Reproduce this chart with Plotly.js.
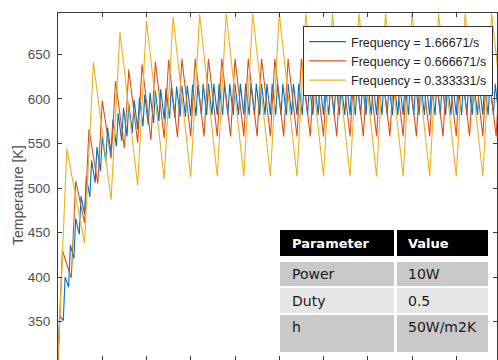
<!DOCTYPE html>
<html>
<head>
<meta charset="utf-8">
<script src="https://cdn.plot.ly/plotly-3.0.1.min.js"></script>
<style>
  html, body { margin: 0; padding: 0; background: #ffffff; overflow: hidden; }
  #chart { width: 498px; height: 360px; }
</style>
</head>
<body>
<div id="chart"></div>
<script>
// Pulsed heating: temperature response for three switching frequencies.
const seriesNames = ['Frequency = 1.66671/s', 'Frequency = 0.666671/s', 'Frequency = 0.333331/s'];
const yLabel = 'Temperature [K]';

// 1.66671/s series: switching instants [s] and temperature [K]
const blueTime = [0,
  0.2, 0.6, 0.8, 1.2, 1.4, 1.8, 2.0, 2.4, 2.6, 3.0, 3.2, 3.6, 3.8, 4.2, 4.4, 4.8,
  5.0, 5.4, 5.6, 6.0, 6.2, 6.6, 6.8, 7.2, 7.4, 7.8, 8.0, 8.4, 8.6, 9.0, 9.2, 9.6,
  9.8, 10.2, 10.4, 10.8, 11.0, 11.4, 11.6, 12.0, 12.2, 12.6, 12.8, 13.2, 13.4, 13.8,
  14.0, 14.4, 14.6, 15.0, 15.2, 15.6, 15.8, 16.2, 16.4, 16.8, 17.0, 17.4, 17.6, 18.0,
  18.2, 18.6, 18.8, 19.2, 19.4, 19.8, 20.0, 20.4, 20.6, 21.0, 21.2, 21.6, 21.8, 22.2,
  22.4, 22.8, 23.0, 23.4, 23.6, 24.0, 24.2, 24.6, 24.8, 25.2, 25.4, 25.8, 26.0, 26.4,
  26.6, 27.0, 27.2, 27.6, 27.8, 28.2, 28.4, 28.8, 29.0, 29.4, 29.6, 30.0, 30.2, 30.6,
  30.8, 31.2, 31.4, 31.8, 32.0, 32.4, 32.6, 33.0, 33.2, 33.6, 33.8, 34.2, 34.4, 34.8,
  35.0, 35.4, 35.6, 36.0, 36.2, 36.6, 36.8, 37.2, 37.4, 37.8, 38.0, 38.4, 38.6, 39.0,
  39.2, 39.6, 39.8, 40.2, 40.4, 40.8, 41.0, 41.4, 41.6, 42.0, 42.2, 42.6, 42.8, 43.2,
  43.4, 43.8, 44.0, 44.4, 44.6, 45.0, 45.2, 45.6, 45.8, 46.2, 46.4, 46.8, 47.0, 47.4,
  47.6, 48.0, 48.2, 48.6, 48.8, 49.2, 49.4, 49.8];
const blueTemp = [307,
  357, 351, 400, 389, 436, 421, 466, 448, 491, 471, 513, 490, 531, 506, 546, 519,
  558, 530, 568, 539, 577, 547, 584, 553, 590, 558, 595, 562, 599, 566, 602, 569,
  605, 571, 607, 573, 609, 575, 611, 577, 612, 578, 613, 579, 614, 580, 615, 580,
  615, 581, 616, 581, 616, 582,
  617, 582, 617, 582, 617, 582, 617, 582, 617, 582, 617, 582, 617, 582, 617, 582,
  617, 582, 617, 582, 617, 582, 617, 582, 617, 582, 617, 582, 617, 582, 617, 582,
  617, 582, 617, 582, 617, 582, 617, 582, 617, 582, 617, 582, 617, 582, 617, 582,
  617, 582, 617, 582, 617, 582, 617, 582, 617, 582, 617, 582, 617, 582, 617, 582,
  617, 582, 617, 582, 617, 582, 617, 582, 617, 582, 617, 582, 617, 582, 617, 582,
  617, 582, 617, 582, 617, 582, 617, 582, 617, 582, 617, 582, 617, 582, 617, 582,
  617, 582, 617, 582, 617, 582, 617, 582, 617, 582, 617, 582, 617, 582, 617, 582];

// 0.666671/s series
const redTime = [0,
  0.5, 1.5, 2, 3, 3.5, 4.5, 5, 6, 6.5, 7.5, 8, 9, 9.5, 10.5, 11, 12,
  12.5, 13.5, 14, 15, 15.5, 16.5, 17, 18, 18.5, 19.5, 20, 21, 21.5, 22.5, 23, 24,
  24.5, 25.5, 26, 27, 27.5, 28.5, 29, 30, 30.5, 31.5, 32, 33, 33.5, 34.5, 35, 36,
  36.5, 37.5, 38, 39, 39.5, 40.5, 41, 42, 42.5, 43.5, 44, 45, 45.5, 46.5, 47, 48,
  48.5, 49.5, 50];
const redTemp = [307,
  430, 399, 508, 461, 566, 505, 598, 533, 620, 545, 633, 551, 639, 554, 642, 556,
  644, 557, 645, 558, 645, 558, 645, 558, 645, 558, 645, 558, 645, 558, 645, 558,
  645, 558, 645, 558, 645, 558, 645, 558, 645, 558, 645, 558, 645, 558, 645, 558,
  645, 558, 645, 558, 645, 558, 645, 558, 645, 558, 645, 558, 645, 558, 645, 558,
  645, 558, 645];

// 0.333331/s series
const yellowTime = [0,
  1, 3, 4, 6, 7, 9, 10, 12, 13, 15, 16, 18, 19, 21, 22, 24,
  25, 27, 28, 30, 31, 33, 34, 36, 37, 39, 40, 42, 43, 45, 46, 48, 49, 51];
const yellowTemp = [307,
  544, 438, 641, 487, 675, 503, 688, 510, 692, 512, 695, 513, 696, 513, 696, 513,
  696, 513, 696, 513, 696, 513, 696, 513, 696, 513, 696, 513, 696, 513, 696, 513, 696, 513];

// Parameter table
const tableHeader = ['Parameter', 'Value'];
const paramNames = ['Power', 'Duty', 'h'];
const paramValues = ['10W', '0.5', '50W/m2K'];

const lineColors = ['#0072BD', '#D95319', '#EDB120'];
const W = 498, H = 360;
const M = { l: 58, r: 1, t: 13, b: 0 };
const PW = W - M.l - M.r, PH = H - M.t - M.b;
const fx = px => (px - M.l) / PW;
const fy = py => (H - M.b - py) / PH;

const traces = [
  { x: blueTime, y: blueTemp },
  { x: redTime, y: redTemp },
  { x: yellowTime, y: yellowTemp }
].map((s, i) => ({
  x: s.x, y: s.y, type: 'scatter', mode: 'lines', name: seriesNames[i],
  line: { color: lineColors[i], width: 1.1 }, hoverinfo: 'skip'
}));

// table geometry (pixels)
const colEdges = [[280, 394], [397, 488]];
const rowEdges = [[230, 256], [262, 286], [288, 313], [315, 352]];
const rowFills = ['#000000', '#c9c9c9', '#e6e6e6', '#c9c9c9'];
const textY = [243, 274, 300.5, 327];
const textX = [290, 406];

const rows = [tableHeader].concat(paramNames.map((n, i) => [n, paramValues[i]]));
const shapes = [];
const annotations = [];
rows.forEach((row, r) => {
  row.forEach((txt, c) => {
    shapes.push({
      type: 'rect', xref: 'paper', yref: 'paper', layer: 'above',
      x0: fx(colEdges[c][0]), x1: fx(colEdges[c][1]),
      y0: fy(rowEdges[r][1]), y1: fy(rowEdges[r][0]),
      fillcolor: rowFills[r], line: { width: 0 }
    });
    annotations.push({
      xref: 'paper', yref: 'paper', x: fx(textX[c]), y: fy(textY[r]),
      xanchor: 'left', yanchor: 'middle', showarrow: false, text: txt,
      font: r === 0
        ? { family: 'DejaVu Sans', size: 13, color: '#ffffff', weight: 'bold' }
        : { family: 'DejaVu Sans', size: 14, color: '#1a1a1a' }
    });
  });
});

// y-axis label, centred on the full axis span
annotations.push({
  xref: 'paper', yref: 'paper', x: fx(18), y: fy(195),
  xanchor: 'center', yanchor: 'middle', textangle: -90, showarrow: false,
  text: yLabel, font: { size: 14, color: '#505050' }
});

const axisCommon = {
  showgrid: false, zeroline: false, showline: true, mirror: 'ticks',
  linecolor: '#3a3a3a', linewidth: 1, ticks: 'inside', ticklen: 4,
  tickcolor: '#3a3a3a', tickwidth: 1
};

const layout = {
  width: W, height: H, margin: M,
  paper_bgcolor: '#ffffff', plot_bgcolor: '#ffffff',
  font: { family: 'Liberation Sans, Arial, sans-serif' },
  showlegend: true,
  xaxis: Object.assign({}, axisCommon, {
    range: [0, 49.6], tick0: 0, dtick: 5, showticklabels: false
  }),
  yaxis: Object.assign({}, axisCommon, {
    range: [307, 696.5], tick0: 350, dtick: 50,
    tickfont: { size: 13.5, color: '#505050' }, ticklabelstandoff: 4
  }),
  legend: {
    x: fx(303), y: fy(26), xanchor: 'left', yanchor: 'top',
    bgcolor: '#ffffff', bordercolor: '#333333', borderwidth: 1,
    font: { size: 12.5, color: '#262626' }, tracegroupgap: 0, itemwidth: 37
  },
  shapes: shapes,
  annotations: annotations
};

Plotly.newPlot('chart', traces, layout, { staticPlot: true, displayModeBar: false });
</script>
</body>
</html>
